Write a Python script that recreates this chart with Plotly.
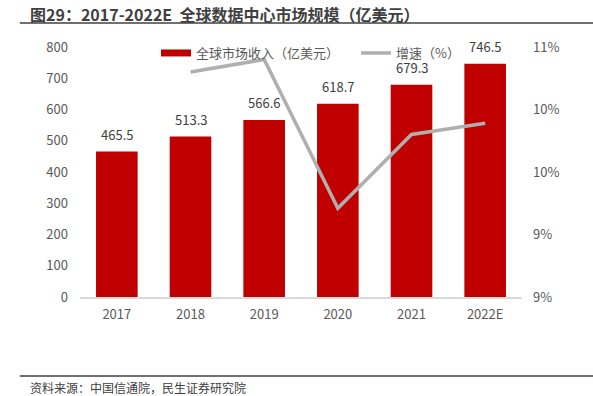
import plotly.graph_objects as go

years = ["2017", "2018", "2019", "2020", "2021", "2022E"]
revenue = [465.5, 513.3, 566.6, 618.7, 679.3, 746.5]
growth_years = ["2018", "2019", "2020", "2021", "2022E"]
growth = [10.30, 10.40, 9.21, 9.80, 9.89]
left_ticks = [0, 100, 200, 300, 400, 500, 600, 700, 800]
right_tickvals = [8.5, 9.0, 9.5, 10.0, 10.5]
right_ticktext = ["9%", "9%", "10%", "10%", "11%"]

FONT = "Noto Sans CJK SC"
GRAY = "#595959"
RED = "#C00000"
LINE_GRAY = "#AFAFAF"

fig = go.Figure()
fig.add_trace(go.Bar(
    x=years, y=revenue, name="全球市场收入（亿美元）",
    marker=dict(color=RED, line=dict(width=0)),
    yaxis="y", showlegend=False,
))
# legend swatch (wide red bar symbol, as in the reference legend)
fig.add_trace(go.Scatter(
    x=[None], y=[None], name="全球市场收入（亿美元）", mode="lines",
    line=dict(color=RED, width=7), yaxis="y", showlegend=True,
))
fig.add_trace(go.Scatter(
    x=growth_years, y=growth, name="增速（%）", mode="lines",
    line=dict(color=LINE_GRAY, width=3.5), yaxis="y2",
))

label_annotations = [
    dict(x=i, y=v, xref="x", yref="y", text=f"{v:.1f}", showarrow=False,
         yanchor="middle", yshift=17.5,
         font=dict(size=13, color="#404040", family=FONT))
    for i, v in enumerate(revenue)
]

fig.update_layout(
    width=593, height=396,
    margin=dict(l=80, r=71, t=47, b=99),
    paper_bgcolor="white", plot_bgcolor="white",
    font=dict(family=FONT, color=GRAY, size=13),
    bargap=0.435,
    showlegend=True,
    legend=dict(orientation="h", x=0.172, y=0.976, xanchor="left", yanchor="middle",
                bgcolor="rgba(0,0,0,0)", font=dict(size=13, color=GRAY),
                itemwidth=30, tracegroupgap=0, entrywidth=155),
    xaxis=dict(type="category", range=[-0.5, len(years) - 0.5],
               showgrid=False, showline=True, linecolor="#D9D9D9",
               linewidth=1.5, ticks="", automargin=False, ticklabelstandoff=5,
               tickfont=dict(size=13, color=GRAY)),
    yaxis=dict(range=[0, 800], tickvals=left_ticks, showgrid=False, zeroline=False,
               showline=False, ticks="", automargin=False, ticklabelstandoff=11,
               tickfont=dict(size=13, color=GRAY)),
    yaxis2=dict(range=[8.5, 10.5], overlaying="y", side="right",
                tickvals=right_tickvals, ticktext=right_ticktext,
                showgrid=False, zeroline=False, showline=False, ticks="",
                automargin=False, ticklabelstandoff=10,
                tickfont=dict(size=13, color=GRAY)),
    shapes=[
        dict(type="line", xref="paper", yref="paper", x0=-0.136, x1=1.161,
             y0=1.096, y1=1.096, line=dict(color="#404040", width=1.5)),
        dict(type="line", xref="paper", yref="paper", x0=-0.136, x1=1.161,
             y0=-0.316, y1=-0.316, line=dict(color="#404040", width=1.5)),
    ],
    annotations=label_annotations + [
        dict(text="<b>图29：2017-2022E  全球数据中心市场规模（亿美元）</b>",
             xref="paper", yref="paper", x=-0.1176, y=1.132, xanchor="left",
             yanchor="middle", showarrow=False,
             font=dict(size=16, color="#404040", family=FONT)),
        dict(text="资料来源：中国信通院，民生证券研究院",
             xref="paper", yref="paper", x=-0.1176, y=-0.364, xanchor="left",
             yanchor="middle", showarrow=False,
             font=dict(size=12, color="#404040", family=FONT)),
    ],
)

fig.write_html("out.html", config={"displayModeBar": False},
               post_script="document.body.style.margin='0';")
